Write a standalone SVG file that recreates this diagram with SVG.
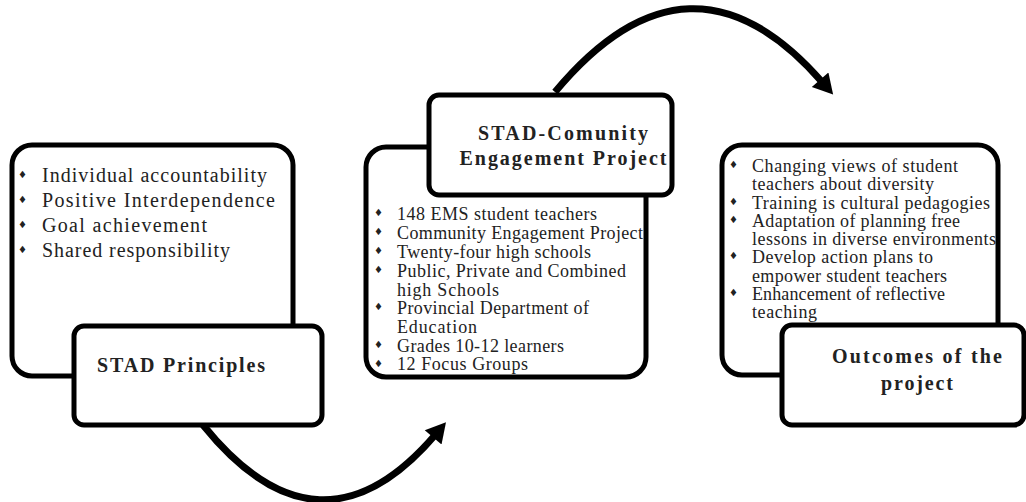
<svg xmlns="http://www.w3.org/2000/svg" width="1026" height="502" viewBox="0 0 1026 502">
<style>
.box{fill:#fff;stroke:#000;stroke-width:5}
.t{font-family:"Liberation Serif","Times New Roman",serif;fill:#222}
.l{font-size:20px}
.m{font-size:18px}
.h{font-size:20px;font-weight:bold}
.b{font-family:"DejaVu Sans",sans-serif;font-size:10px;fill:#222}
.arr{fill:none;stroke:#000;stroke-width:7}
</style>
<defs>
<marker id="ah" markerUnits="userSpaceOnUse" markerWidth="22" markerHeight="22" refX="4" refY="10" orient="auto" viewBox="0 0 18 20">
<path d="M0,0 L18,10 L0,20 Z" fill="#000"/>
</marker>
</defs>
<rect width="1026" height="502" fill="#fff"/>
<g id="connectors">
<path class="arr" d="M555,92 Q690,-70 823,83" marker-end="url(#ah)"/>
<path class="arr" d="M203,425 Q320,570 436,434" marker-end="url(#ah)"/>
</g>
<g id="node-principles-list">
<rect class="box" x="12" y="145" width="281" height="231" rx="20"/>
<text class="b" x="18" y="178">♦</text><text class="t l" x="42" y="182" textLength="225" lengthAdjust="spacing">Individual accountability</text>
<text class="b" x="18" y="203">♦</text><text class="t l" x="42" y="207" textLength="233" lengthAdjust="spacing">Positive Interdependence</text>
<text class="b" x="18" y="228">♦</text><text class="t l" x="42" y="232" textLength="165" lengthAdjust="spacing">Goal achievement</text>
<text class="b" x="18" y="253">♦</text><text class="t l" x="42" y="257" textLength="188" lengthAdjust="spacing">Shared responsibility</text>
</g>
<g id="node-principles">
<rect class="box" x="74" y="326" width="248" height="99" rx="10"/>
<text class="t h" x="97" y="372" textLength="168" lengthAdjust="spacing">STAD Principles</text>
</g>
<g id="node-project-list">
<rect class="box" x="366" y="147" width="280" height="230" rx="20"/>
<text class="b" x="374" y="216">♦</text><text class="t m" x="397" y="220" textLength="200" lengthAdjust="spacing">148 EMS student teachers</text>
<text class="b" x="374" y="235">♦</text><text class="t m" x="397" y="239" textLength="246" lengthAdjust="spacing">Community Engagement Project</text>
<text class="b" x="374" y="254">♦</text><text class="t m" x="397" y="258" textLength="194" lengthAdjust="spacing">Twenty-four high schools</text>
<text class="b" x="374" y="273">♦</text><text class="t m" x="397" y="277" textLength="229" lengthAdjust="spacing">Public, Private and Combined</text>
<text class="t m" x="397" y="296" textLength="102" lengthAdjust="spacing">high Schools</text>
<text class="b" x="374" y="310">♦</text><text class="t m" x="397" y="314" textLength="192" lengthAdjust="spacing">Provincial Department of</text>
<text class="t m" x="397" y="333" textLength="80" lengthAdjust="spacing">Education</text>
<text class="b" x="374" y="348">♦</text><text class="t m" x="397" y="352" textLength="167" lengthAdjust="spacing">Grades 10-12 learners</text>
<text class="b" x="374" y="367">♦</text><text class="t m" x="397" y="370" textLength="131" lengthAdjust="spacing">12 Focus Groups</text>
</g>
<g id="node-project">
<rect class="box" x="429" y="95" width="243" height="100" rx="10"/>
<text class="t h" x="563" y="140" text-anchor="middle" textLength="170" lengthAdjust="spacing">STAD-Comunity</text>
<text class="t h" x="563" y="165" text-anchor="middle" textLength="207" lengthAdjust="spacing">Engagement Project</text>
</g>
<g id="node-outcomes-list">
<rect class="box" x="722" y="145" width="276" height="230" rx="20"/>
<text class="b" x="729" y="168">♦</text><text class="t m" x="752" y="172" textLength="206" lengthAdjust="spacing">Changing views of student</text>
<text class="t m" x="752" y="190" textLength="182" lengthAdjust="spacing">teachers about diversity</text>
<text class="b" x="729" y="205">♦</text><text class="t m" x="752" y="209" textLength="238" lengthAdjust="spacing">Training is cultural pedagogies</text>
<text class="b" x="729" y="223">♦</text><text class="t m" x="752" y="227" textLength="208" lengthAdjust="spacing">Adaptation of planning free</text>
<text class="t m" x="752" y="245" textLength="244" lengthAdjust="spacing">lessons in diverse environments</text>
<text class="b" x="729" y="259">♦</text><text class="t m" x="752" y="263" textLength="181" lengthAdjust="spacing">Develop action plans to</text>
<text class="t m" x="752" y="282" textLength="195" lengthAdjust="spacing">empower student teachers</text>
<text class="b" x="729" y="296">♦</text><text class="t m" x="752" y="300" textLength="193" lengthAdjust="spacing">Enhancement of reflective</text>
<text class="t m" x="752" y="318" textLength="65" lengthAdjust="spacing">teaching</text>
</g>
<g id="node-outcomes">
<rect class="box" x="782" y="325" width="242" height="100" rx="10"/>
<text class="t h" x="917" y="363" text-anchor="middle" textLength="170" lengthAdjust="spacing">Outcomes of the</text>
<text class="t h" x="917" y="390" text-anchor="middle" textLength="72" lengthAdjust="spacing">project</text>
</g>
</svg>
